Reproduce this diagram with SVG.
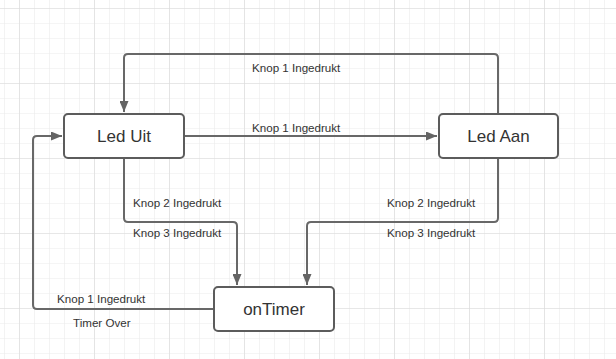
<svg xmlns="http://www.w3.org/2000/svg" width="616" height="359" viewBox="0 0 616 359">
  <defs>
    <pattern id="minor" x="4" y="8" width="15" height="15" patternUnits="userSpaceOnUse">
      <path d="M0 0V15M0 0H15" fill="none" stroke="#ebebeb" stroke-width="1.2"/>
    </pattern>
    <pattern id="major" x="19" y="8" width="75" height="75" patternUnits="userSpaceOnUse">
      <path d="M0 0V75M0 0H75" fill="none" stroke="#dadada" stroke-width="1.2"/>
    </pattern>
    <marker id="arrow" viewBox="0 0 11 9" refX="11" refY="4.5" markerWidth="11" markerHeight="9" markerUnits="userSpaceOnUse" orient="auto">
      <path d="M0 0L11 4.5L0 9Z" fill="#646464"/>
    </marker>
    <style>
      .node rect { fill: #fff; stroke: #5c5c5c; stroke-width: 2; }
      .node text { font-family: "Liberation Sans", Arial, sans-serif; font-size: 17px; fill: #333; text-anchor: middle; }
      .edge { fill: none; stroke: #686868; stroke-width: 2; marker-end: url(#arrow); }
      .label { font-family: "Liberation Sans", Arial, sans-serif; font-size: 11.6px; fill: #333; }
    </style>
  </defs>

  <!-- background grid -->
  <rect width="616" height="359" fill="#fff"/>
  <rect width="616" height="359" fill="url(#minor)"/>
  <rect width="616" height="359" fill="url(#major)"/>

  <!-- connectors -->
  <g id="connectors">
    <!-- Led Aan -> Led Uit over the top -->
    <path class="edge" d="M498 114V58Q498 54 494 54H128Q124 54 124 58V112"/>
    <!-- Led Uit -> Led Aan -->
    <path class="edge" d="M184 136H437"/>
    <!-- Led Uit -> onTimer -->
    <path class="edge" d="M124 158V218Q124 222 128 222H233Q237 222 237 226V285"/>
    <!-- Led Aan -> onTimer -->
    <path class="edge" d="M498 158V218Q498 222 494 222H311Q307 222 307 226V285"/>
    <!-- onTimer -> Led Uit -->
    <path class="edge" d="M214 309H37Q33 309 33 305V140Q33 136 37 136H62"/>

    <text class="label" x="252" y="71.5">Knop 1 Ingedrukt</text>
    <text class="label" x="252" y="131.5">Knop 1 Ingedrukt</text>
    <text class="label" x="133" y="207">Knop 2 Ingedrukt</text>
    <text class="label" x="133" y="236.5">Knop 3 Ingedrukt</text>
    <text class="label" x="387" y="207">Knop 2 Ingedrukt</text>
    <text class="label" x="387" y="236.5">Knop 3 Ingedrukt</text>
    <text class="label" x="57" y="303">Knop 1 Ingedrukt</text>
    <text class="label" x="73" y="326.5">Timer Over</text>
  </g>

  <!-- states -->
  <g id="led-uit" class="node">
    <rect x="64" y="114" width="120" height="44" rx="4"/>
    <text x="124" y="142">Led Uit</text>
  </g>
  <g id="led-aan" class="node">
    <rect x="439" y="114" width="119" height="44" rx="4"/>
    <text x="498.5" y="142">Led Aan</text>
  </g>
  <g id="on-timer" class="node">
    <rect x="214" y="287" width="120" height="44" rx="4"/>
    <text x="274" y="315">onTimer</text>
  </g>
</svg>
